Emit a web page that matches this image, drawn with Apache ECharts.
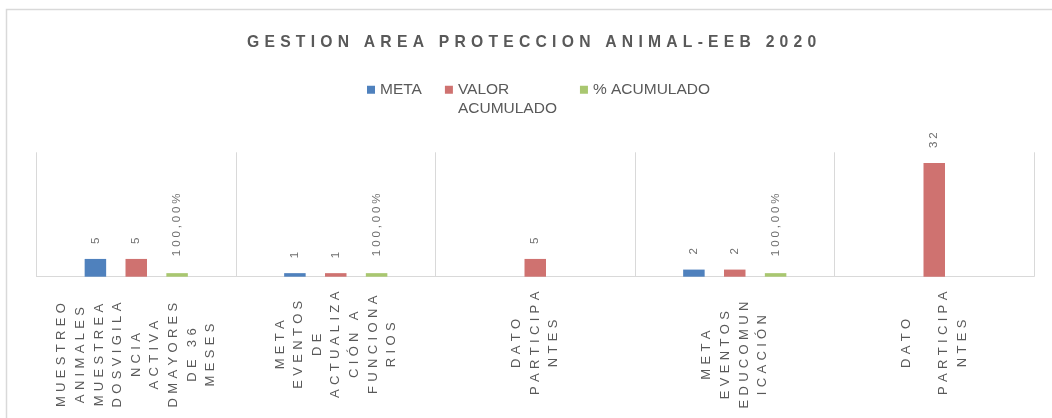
<!DOCTYPE html>
<html>
<head>
<meta charset="utf-8">
<script src="https://cdn.jsdelivr.net/npm/echarts@6/dist/echarts.min.js"></script>
<style>
  html, body { margin: 0; padding: 0; background: #fff; }
  #chart { width: 1052px; height: 418px; }
</style>
</head>
<body>
<div id="chart"></div>
<script>
// datos de la gráfica
var chartTitle = 'GESTION AREA PROTECCION ANIMAL-EEB 2020'
var categories = [
  'MUESTREO\nANIMALES\nMUESTREA\nDOSVIGILA\nNCIA\nACTIVA\nDMAYORES\nDE 36\nMESES',
  'META\nEVENTOS\nDE\nACTUALIZA\nCIÓN A\nFUNCIONA\nRIOS',
  'DATO\nPARTICIPA\nNTES',
  'META\nEVENTOS\nEDUCOMUN\nICACIÓN',
  'DATO\n\nPARTICIPA\nNTES'
]
var seriesNames = ['META', 'VALOR ACUMULADO', '% ACUMULADO']
var metaValues = [5, 1, null, 2, null]
var valorAcumulado = [5, 1, 5, 2, 32]
var pctAcumulado = [1, 1, null, 1, null] // 1 = 100,00%

var colors = ['#4F81BD', '#CF7270', '#A9C770']
var textGray = '#595959'
// en Excel algunas etiquetas del eje bajan un poco más
var labelDrop = [11, 0, 0, 10, 0]

// separa las letras como en el gráfico original de Excel
function spread(s, sp) {
  return s.split('\n').map(function (line) {
    return Array.from(line).join(sp)
  }).join('\n')
}

function pctLabel(v) {
  return (v * 100).toFixed(2).replace('.', ',') + '%'
}

var chart = echarts.init(document.getElementById('chart'))

var valueLabel = {
  show: true,
  position: 'top',
  rotate: 90,
  align: 'left',
  verticalAlign: 'middle',
  distance: 15,
  fontSize: 11.5,
  color: '#6f6f6f'
}

var option = {
  animation: false,
  textStyle: { fontFamily: '"Liberation Sans", Arial, sans-serif' },
  color: colors,
  title: {
    text: spread(chartTitle, '\u2004'),
    left: 247,
    top: 34.5,
    padding: 0,
    textStyle: { fontSize: 15.7, fontWeight: 'bold', color: textGray }
  },
  legend: {
    left: 367,
    top: 62,
    padding: 0,
    itemWidth: 8,
    itemHeight: 8,
    itemGap: 23,
    icon: 'rect',
    textStyle: { fontSize: 15.5, color: textGray, lineHeight: 18.5 },
    formatter: function (name) {
      // Excel parte el nombre en dos renglones; el primero queda a la altura del icono
      return name === 'VALOR ACUMULADO' ? '\nVALOR\nACUMULADO' : name
    },
    data: seriesNames
  },
  graphic: [{
    type: 'rect',
    silent: true,
    shape: { x: 6.5, y: 9.5, width: 1200, height: 600 },
    style: { fill: 'none', stroke: '#D9D9D9', lineWidth: 1.5 }
  }],
  grid: {
    left: 36.5,
    right: 18,
    top: 152.3,
    bottom: 141.3,
    outerBoundsMode: 'none'
  },
  xAxis: {
    type: 'category',
    data: categories.map(function (c, i) {
      return { value: c, textStyle: { padding: [0, labelDrop[i], 0, 0] } }
    }),
    axisLine: { lineStyle: { color: '#D9D9D9', width: 1 } },
    axisTick: { show: false },
    splitLine: { show: true, lineStyle: { color: '#D9D9D9', width: 1 } },
    axisLabel: {
      interval: 0,
      rotate: 90,
      margin: 15,
      fontSize: 13,
      lineHeight: 18.6,
      color: textGray,
      formatter: function (v) {
        return v.split('\n').map(function (line) {
          return '{c|' + spread(line, '\u2004') + '}'
        }).join('\n')
      },
      rich: {
        c: { align: 'center', fontSize: 13, lineHeight: 18.6, color: textGray }
      }
    }
  },
  yAxis: {
    type: 'value',
    min: 0,
    max: 35,
    show: false
  },
  series: [
    {
      name: seriesNames[0],
      type: 'bar',
      data: metaValues,
      barWidth: 21.5,
      barGap: '90%',
      label: Object.assign({}, valueLabel, {
        formatter: function (p) { return spread(String(p.value), '\u2005') }
      })
    },
    {
      name: seriesNames[1],
      type: 'bar',
      data: valorAcumulado,
      barWidth: 21.5,
      barGap: '90%',
      label: Object.assign({}, valueLabel, {
        formatter: function (p) { return spread(String(p.value), '\u2005') }
      })
    },
    {
      name: seriesNames[2],
      type: 'bar',
      data: pctAcumulado,
      barWidth: 21.5,
      barGap: '90%',
      label: Object.assign({}, valueLabel, {
        distance: 17,
        formatter: function (p) { return spread(pctLabel(p.value), '\u2005') }
      })
    }
  ]
}

chart.setOption(option)
</script>
</body>
</html>
